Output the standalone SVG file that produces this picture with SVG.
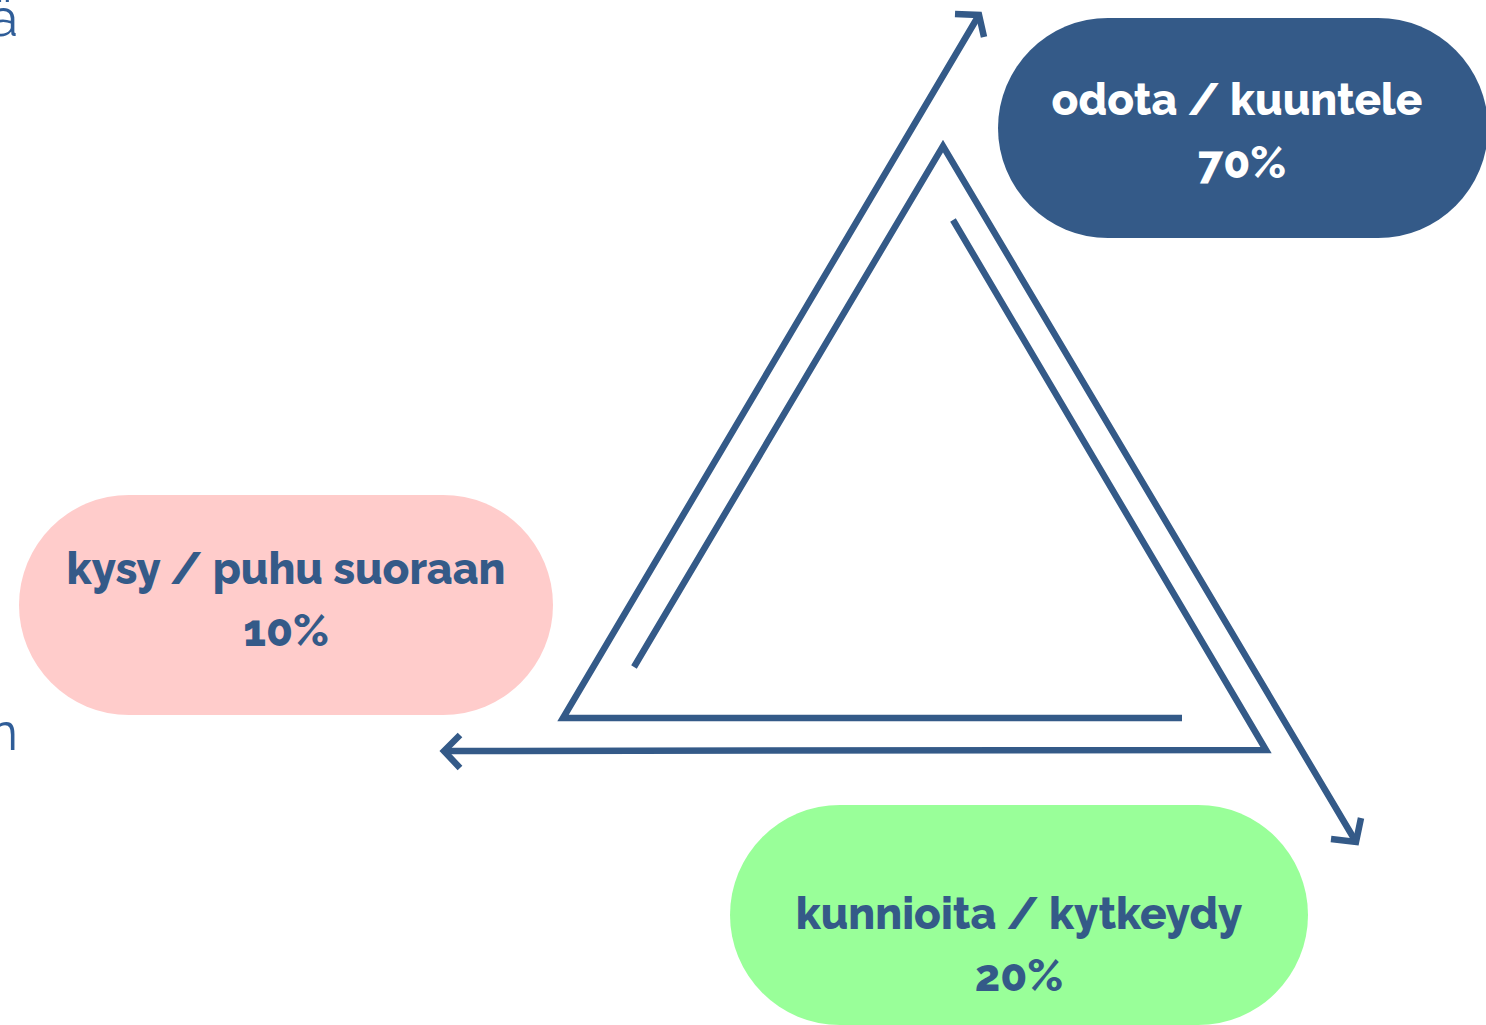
<svg xmlns="http://www.w3.org/2000/svg" width="1486" height="1025" viewBox="0 0 1486 1025">
<defs>
<style>
.lbl{font-family:"Raleway","Lato","Open Sans","Liberation Sans",sans-serif;font-weight:800;font-size:44px;text-anchor:middle}
.dark{fill:#ffffff}
.blue{fill:#345a88}
.frag{font-family:"Raleway","Lato","Open Sans","Liberation Sans",sans-serif;font-weight:400;font-size:52px;fill:#2f5d98;text-anchor:end}
.ln{fill:none;stroke:#345a88;stroke-width:6.5;stroke-linejoin:miter;stroke-linecap:butt}
</style>
</defs>
<rect width="1486" height="1025" fill="#ffffff"/>
<text class="frag" x="18" y="36">ä</text>
<text class="frag" x="18" y="750">n</text>
<g id="node-odota">
<rect x="998" y="18" width="490" height="220" rx="110" fill="#345a88"/>
<text class="lbl dark" x="1237" y="115">odota / kuuntele</text>
<text class="lbl dark" x="1242" y="178">70%</text>
</g>
<g id="node-kysy">
<rect x="19" y="495" width="534" height="220" rx="110" fill="#ffcccb"/>
<text class="lbl blue" x="286" y="584">kysy / puhu suoraan</text>
<text class="lbl blue" x="286" y="646">10%</text>
</g>
<g id="node-kunnioita">
<rect x="730" y="805" width="578" height="220" rx="110" fill="#99ff99"/>
<text class="lbl blue" x="1019" y="929">kunnioita / kytkeydy</text>
<text class="lbl blue" x="1019" y="991">20%</text>
</g>
<g id="connectors">
<polyline class="ln" points="1182,718 563,718 979,15"/>
<polyline class="ln" points="955,14 979,15 984,37"/>
<polyline class="ln" points="634,667 943,146 1356,842"/>
<polyline class="ln" points="1331,839 1356,842 1361,818"/>
<polyline class="ln" points="953,220 1266,750 444,751"/>
<polyline class="ln" points="460,735 444,751 460,768"/>
</g>
</svg>
